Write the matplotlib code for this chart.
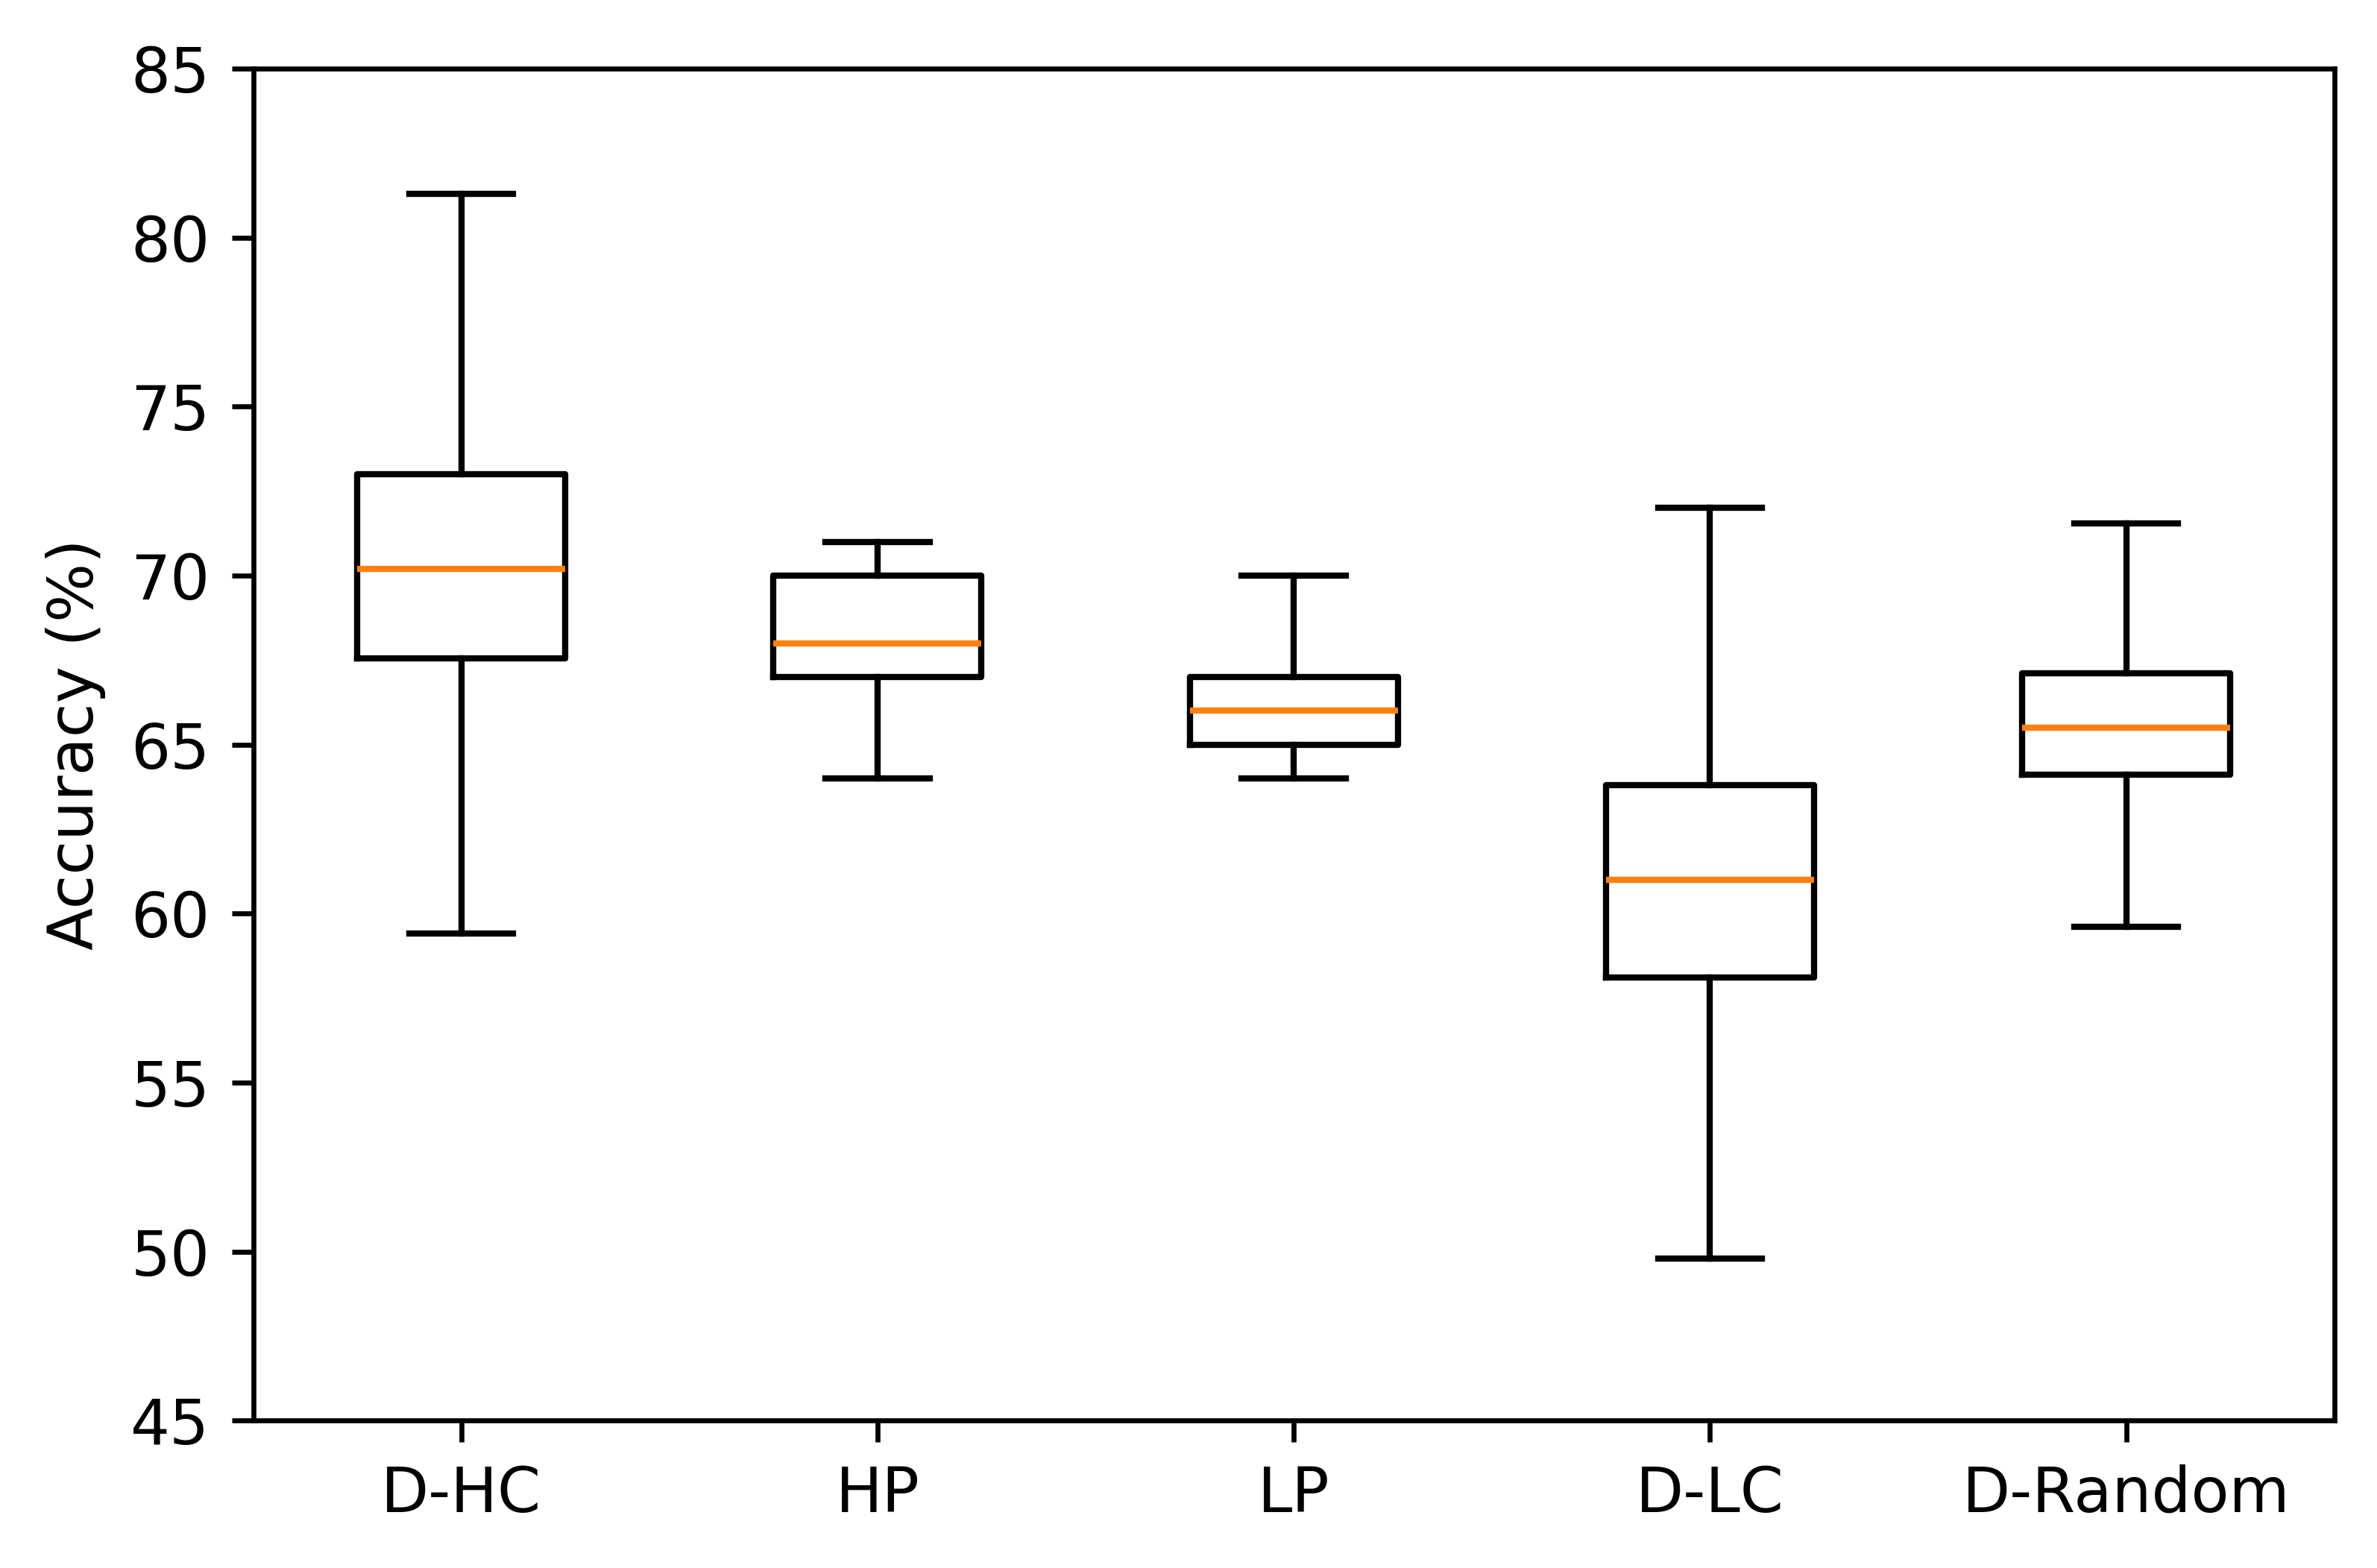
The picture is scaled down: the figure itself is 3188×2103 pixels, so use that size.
import matplotlib
matplotlib.use("Agg")
import matplotlib.pyplot as plt

# box statistics
methods = ["D-HC", "HP", "LP", "D-LC", "D-Random"]
whis_lo = [59.4, 64.0, 64.0, 49.8, 59.6]
q1 = [67.55, 67.0, 65.0, 58.1, 64.1]
med = [70.2, 68.0, 66.0, 61.0, 65.5]
q3 = [73.0, 70.0, 67.0, 63.8, 67.1]
whis_hi = [81.3, 71.0, 70.0, 72.0, 71.55]

stats = []
for i in range(len(methods)):
	stats.append({"label": methods[i], "whislo": whis_lo[i], "q1": q1[i],
		"med": med[i], "q3": q3[i], "whishi": whis_hi[i], "fliers": []})

fig = plt.figure(figsize=(3188/600., 2103/600.), dpi=600)
ax = fig.add_axes([0.1065, 0.094, 0.8755, 0.8623])
ax.bxp(stats, showfliers=False)
ax.set_ylim(45, 85)
ax.set_yticks([45, 50, 55, 60, 65, 70, 75, 80, 85])
ax.set_ylabel("Accuracy (%)")
fig.savefig("out.png", dpi=600)
